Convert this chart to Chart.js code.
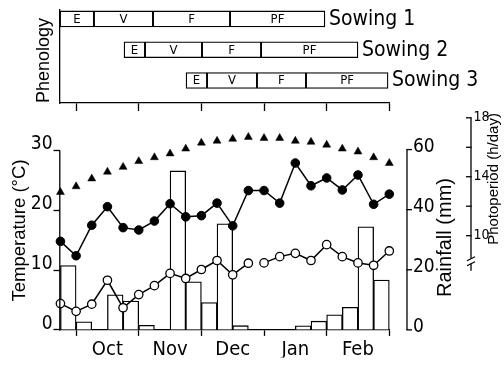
<!DOCTYPE html>
<html><head><meta charset="utf-8">
<script src="https://cdn.jsdelivr.net/npm/chart.js@4.4.1/dist/chart.umd.min.js"></script>
<style>
html,body{margin:0;padding:0;background:#fff;}
#wrap{position:relative;width:504px;height:365px;overflow:hidden;background:#fff;}
canvas{position:absolute;left:0;top:0;}
</style></head><body>
<div id="wrap">
<canvas id="main" width="504" height="365"></canvas>
<canvas id="phen" width="504" height="125"></canvas>
</div>
<script>
// ---------- data ----------
const periods = [0,1,2,3,4,5,6,7,8,9,10,11,12,13,14,15,16,17,18,19,20,21]; // quarter-month steps
const monthStarts = [1,5,9,13,17,21];
const monthLabels = ['Oct','Nov','Dec','Jan','Feb'];
const maxTemp = [14.8,12.4,17.5,20.6,17.1,16.7,18.2,21.1,18.9,19.1,21.2,17.4,23.3,23.3,21.2,27.9,24.1,25.4,23.4,25.9,21.0,22.7];
const minTemp = [4.4,3.1,4.3,8.3,3.7,5.9,7.4,9.45,8.6,10.1,11.6,9.2,11.15,11.2,12.25,12.8,11.6,14.25,12.25,11.2,10.8,13.2];
const minTempGapAfter = 12;
const photoperiod = [12.95,13.34,13.87,14.33,14.66,15.05,15.31,15.57,15.9,16.3,16.43,16.56,16.69,16.62,16.62,16.43,16.36,16.16,15.9,15.7,15.31,14.92];
const rainfall = [21.4,2.7,0,11.7,9.6,1.5,0,52.9,16.0,9.1,35.3,1.4,0,0,0,1.35,2.9,5.0,7.5,34.3,16.6];
const sowings = ['Sowing 1','Sowing 2','Sowing 3'];
const phases = ['E','V','F','PF'];
const sowing1Stages = [-0.03,2.14,5.91,10.83,16.89];
const sowing2Stages = [4.06,5.40,9.04,12.81,19.0];
const sowing3Stages = [8.02,9.36,12.55,15.68,20.92];
const tempTicks = [0,10,20,30];
const rainTicks = [0,20,40,60];
const photoTicks = [10,12,14,16,18];
const photoLabelled = [10,14,18];

// ---------- shared settings ----------
const NARROW = "'Liberation Sans Narrow','DejaVu Sans Condensed','Liberation Sans',sans-serif";
const REG = "'Liberation Sans',Arial,sans-serif";
const X_MIN = -0.06, X_MAX = 21;
const BLACK = '#000', CLEAR = 'rgba(0,0,0,0)';
const labelPos = monthLabels.map((m,i)=>(monthStarts[i]+monthStarts[i+1])/2);
const allXTicks = monthStarts.concat(labelPos).sort((a,b)=>a-b);

function vText(ctx, text, x, y, font){
  ctx.save(); ctx.translate(x,y); ctx.rotate(-Math.PI/2);
  ctx.font = font; ctx.fillStyle = BLACK; ctx.textAlign='center'; ctx.textBaseline='middle';
  ctx.fillText(text,0,0); ctx.restore();
}
function seg(ctx,x1,y1,x2,y2){ ctx.beginPath(); ctx.moveTo(x1,y1); ctx.lineTo(x2,y2); ctx.stroke(); }

// ---------- main chart ----------
const mainDecor = {
  id:'mainDecor',
  afterDraw(chart){
    const ctx = chart.ctx, yT = chart.scales.yT, yR = chart.scales.yR, yP = chart.scales.yP;
    ctx.save(); ctx.strokeStyle = BLACK; ctx.lineWidth = 1.3; ctx.lineCap='butt';
    // temperature axis line
    const xl = chart.chartArea.left + 0.3;
    seg(ctx, xl, yT.getPixelForValue(tempTicks[tempTicks.length-1]), xl, yT.getPixelForValue(0)+0.6);
    // rainfall axis
    const xr = yR.left + 17.7;
    seg(ctx, xr, yR.getPixelForValue(rainTicks[rainTicks.length-1]), xr, yR.getPixelForValue(0));
    rainTicks.forEach(v=>{ const y = yR.getPixelForValue(v); seg(ctx, xr-0.6, y, xr+5, y); });
    // photoperiod axis with break
    const xp = yP.left;
    const yTop = yP.getPixelForValue(photoTicks[photoTicks.length-1]);
    const yB1 = yTop + 141, yB2 = yTop + 146;
    seg(ctx, xp, yTop, xp, yB1);
    seg(ctx, xp, yB2, xp, yB2 + 7);
    seg(ctx, xp-4, yB1+2, xp+4, yB1-2);
    seg(ctx, xp-4, yB2+2, xp+4, yB2-2);
    photoTicks.forEach(v=>{ const y = yP.getPixelForValue(v); seg(ctx, xp-5, y, xp+0.6, y); });
    ctx.restore();
    // axis titles
    vText(ctx, 'Temperature (°C)', 19.6, 230.5, '18.5px '+REG);
    vText(ctx, 'Rainfall (mm)', 445, 237.5, '20px '+REG);
    vText(ctx, 'Photoperiod (h/day)', 494, 179, '15px '+REG);
  }
};

new Chart(document.getElementById('main'), {
  type:'line',
  data:{ datasets:[
    { type:'line', label:'Maximum temperature', yAxisID:'yT', xAxisID:'x',
      data: periods.map((p,i)=>({x:p, y:maxTemp[i]})),
      borderColor:BLACK, borderWidth:1.5, tension:0, clip:false,
      pointRadius:4.3, pointBackgroundColor:BLACK, pointBorderColor:BLACK, pointBorderWidth:1, order:1 },
    { type:'line', label:'Minimum temperature', yAxisID:'yT', xAxisID:'x',
      data: periods.map((p,i)=>({x:p, y:minTemp[i]})),
      borderColor:BLACK, borderWidth:1.5, tension:0, clip:false,
      segment:{ borderColor: c => c.p0DataIndex === minTempGapAfter ? CLEAR : BLACK },
      pointRadius:4.2, pointBackgroundColor:'#fff', pointBorderColor:BLACK, pointBorderWidth:1.3, order:0 },
    { type:'line', label:'Photoperiod', yAxisID:'yP', xAxisID:'x',
      data: periods.map((p,i)=>({x:p, y:photoperiod[i]})),
      showLine:false, clip:false, pointStyle:'triangle', pointRadius:4.6,
      pointBackgroundColor:BLACK, pointBorderColor:BLACK, pointBorderWidth:0.5, order:2 },
    { type:'bar', label:'Rainfall', yAxisID:'yR', xAxisID:'x',
      data: rainfall.map((r,i)=>({x:(periods[i]+periods[i+1])/2, y:r})),
      backgroundColor:'#fff', borderColor:BLACK, borderWidth:1.3,
      barPercentage:1, categoryPercentage:1, clip:false, order:5 }
  ]},
  options:{
    responsive:false, animation:false, events:[],
    layout:{ padding:{ top:112, left:0, right:0, bottom:0 } },
    plugins:{ legend:{display:false}, tooltip:{enabled:false} },
    scales:{
      x:{ type:'linear', position:'bottom', min:X_MIN, max:X_MAX, offset:false,
        afterBuildTicks: s => { s.ticks = allXTicks.map(v=>({value:v})); },
        afterFit: s => { s.height = 27.5; },
        grid:{ offset:false, drawOnChartArea:false, drawTicks:true, tickLength:6, tickWidth:1.3,
          color:CLEAR, tickColor: c => (c.tick && monthStarts.includes(c.tick.value)) ? BLACK : CLEAR },
        border:{ display:true, color:BLACK, width:1.3 },
        ticks:{ autoSkip:false, maxRotation:0, minRotation:0, padding:2, color:BLACK,
          font:{ family:NARROW, size:20 },
          callback: v => { const i = labelPos.indexOf(v); return i >= 0 ? monthLabels[i] : ''; } } },
      yT:{ type:'linear', position:'left', min:0, max:36.43,
        afterBuildTicks: s => { s.ticks = tempTicks.map(v=>({value:v})); },
        afterFit: s => { s.width = 59.5; },
        grid:{ drawOnChartArea:false, drawTicks:true, tickLength:6, tickWidth:1.3, tickColor:BLACK, color:BLACK },
        border:{ display:false },
        ticks:{ padding:1, labelOffset:-6, color:BLACK, font:{ family:NARROW, size:19 } } },
      yR:{ type:'linear', position:'right', weight:0, min:0, max:72.5,
        afterBuildTicks: s => { s.ticks = rainTicks.map(v=>({value:v})); },
        afterFit: s => { s.width = 81.7; },
        grid:{ drawOnChartArea:false, drawTicks:false },
        border:{ display:false },
        ticks:{ padding:23.7, labelOffset:-3, color:BLACK, font:{ family:NARROW, size:19 } } },
      yP:{ type:'linear', position:'right', weight:1, min:3.607, max:18.393,
        afterBuildTicks: s => { s.ticks = photoTicks.map(v=>({value:v})); },
        afterFit: s => { s.width = 33; },
        grid:{ drawOnChartArea:false, drawTicks:false },
        border:{ display:false },
        ticks:{ padding:2.5, color:BLACK, font:{ family:NARROW, size:14 },
          callback: v => photoLabelled.includes(v) ? String(v) : '' } }
    }
  },
  plugins:[mainDecor]
});

// ---------- phenology chart ----------
const stageSets = [sowing1Stages, sowing2Stages, sowing3Stages];
const phenDecor = {
  id:'phenDecor',
  afterDatasetsDraw(chart){
    const ctx = chart.ctx;
    ctx.save(); ctx.fillStyle = BLACK; ctx.textBaseline='middle';
    chart.data.datasets.forEach((ds,di)=>{
      const meta = chart.getDatasetMeta(di);
      meta.data.forEach((el,k)=>{
        const p = el.getProps(['x','base','y'], true);
        ctx.font = '13px '+NARROW; ctx.textAlign='center';
        ctx.fillText(phases[di], (p.x+p.base)/2, p.y+0.5);
        if (di === phases.length-1){
          ctx.font = '21px '+NARROW; ctx.textAlign='left';
          ctx.fillText(sowings[k], Math.max(p.x,p.base)+4, p.y+0.5);
        }
      });
    });
    ctx.restore();
    vText(ctx, 'Phenology', 43.8, 60.5, '18px '+REG);
  }
};

new Chart(document.getElementById('phen'), {
  type:'bar',
  data:{ datasets: phases.map((ph,pi)=>({
    label:ph,
    data: stageSets.map((st,k)=>({ x:[st[pi], st[pi+1]], y: sowings.length - k })),
    backgroundColor:'#fff', borderColor:BLACK, borderWidth:1.3, borderSkipped:false,
    barThickness:16, grouped:false
  }))},
  options:{
    indexAxis:'y', responsive:false, animation:false, events:[],
    layout:{ padding:{ top:10, left:0, right:114.7, bottom:0 } },
    plugins:{ legend:{display:false}, tooltip:{enabled:false} },
    scales:{
      x:{ type:'linear', position:'bottom', min:X_MIN, max:X_MAX, offset:false,
        afterBuildTicks: s => { s.ticks = monthStarts.map(v=>({value:v})); },
        afterFit: s => { s.height = 22; },
        grid:{ offset:false, drawOnChartArea:false, drawTicks:true, tickLength:8, tickWidth:1.3, tickColor:BLACK, color:BLACK },
        border:{ display:true, color:BLACK, width:1.3 },
        ticks:{ display:false } },
      y:{ type:'linear', position:'left', min:0.27, max:3.29, offset:false,
        afterFit: s => { s.width = 59.5; },
        grid:{ display:false, offset:false },
        border:{ display:true, color:BLACK, width:1.3 },
        ticks:{ display:false } }
    }
  },
  plugins:[phenDecor]
});
</script>
</body></html>
